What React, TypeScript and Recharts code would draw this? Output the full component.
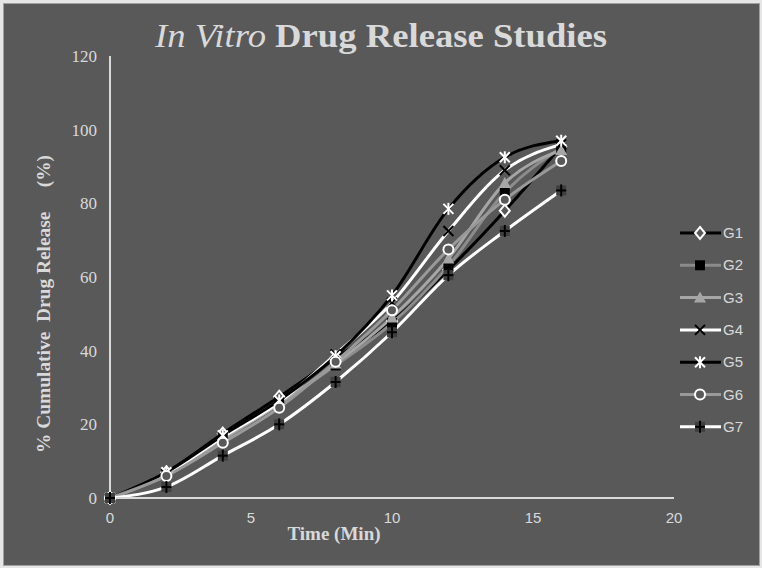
import React from 'react';
import { LineChart, Line, XAxis, YAxis } from 'recharts';

const times = [0, 2, 4, 6, 8, 10, 12, 14, 16];
const g1 = [0, 7, 17.5, 27.5, 38, 48, 62, 78, 95.5];
const g2 = [0, 6.5, 16, 25.5, 36, 47.5, 63, 83, 95];
const g3 = [0, 6.5, 16, 25.5, 36.5, 49, 65, 85.5, 94.5];
const g4 = [0, 6.5, 16.5, 26, 39, 53, 72.5, 89, 96];
const g5 = [0, 7, 17, 26.5, 38.5, 55, 78.5, 92.5, 97];
const g6 = [0, 6, 15, 24.5, 37, 51, 67.5, 81, 91.5];
const g7 = [0, 3, 11.5, 20, 31.5, 45, 60.5, 72.5, 83.5];
const seriesNames = ['G1', 'G2', 'G3', 'G4', 'G5', 'G6', 'G7'];
const xTicks = [0, 5, 10, 15, 20];
const yTicks = [0, 20, 40, 60, 80, 100, 120];

const BG = '#595959';
const TXT = '#d9d9d9';

const data = times.map((t, i) => ({
  t,
  G1: g1[i], G2: g2[i], G3: g3[i], G4: g4[i], G5: g5[i], G6: g6[i], G7: g7[i],
}));

const lineColors: Record<string, string> = {
  G1: '#000000', G2: '#8c8c8c', G3: '#a6a6a6', G4: '#ffffff', G5: '#000000', G6: '#999999', G7: '#ffffff',
};

function Marker({ name, cx, cy }: { name: string; cx: number; cy: number }) {
  if (cx == null || cy == null) return null;
  switch (name) {
    case 'G1':
      return <polygon points={`${cx},${cy - 6} ${cx + 5},${cy} ${cx},${cy + 6} ${cx - 5},${cy}`} fill={BG} stroke="#ffffff" strokeWidth={2} />;
    case 'G2':
      return <rect x={cx - 5} y={cy - 5} width={10} height={10} fill="#000000" />;
    case 'G3':
      return <polygon points={`${cx},${cy - 6} ${cx + 6},${cy + 5} ${cx - 6},${cy + 5}`} fill="#a6a6a6" />;
    case 'G4':
      return <g stroke="#000000" strokeWidth={2}><line x1={cx - 5} y1={cy - 5} x2={cx + 5} y2={cy + 5} /><line x1={cx - 5} y1={cy + 5} x2={cx + 5} y2={cy - 5} /></g>;
    case 'G5':
      return <g stroke="#ffffff" strokeWidth={2}><line x1={cx - 5} y1={cy - 5} x2={cx + 5} y2={cy + 5} /><line x1={cx - 5} y1={cy + 5} x2={cx + 5} y2={cy - 5} /><line x1={cx} y1={cy - 6} x2={cx} y2={cy + 6} /></g>;
    case 'G6':
      return <circle cx={cx} cy={cy} r={5} fill={BG} stroke="#ffffff" strokeWidth={2} />;
    case 'G7':
      return <g><rect x={cx - 5} y={cy - 5} width={10} height={10} fill="#3f3f3f" /><g stroke="#000000" strokeWidth={2}><line x1={cx - 5} y1={cy} x2={cx + 5} y2={cy} /><line x1={cx} y1={cy - 6} x2={cx} y2={cy + 6} /></g></g>;
    default:
      return null;
  }
}

export default function App() {
  return (
    <div style={{ position: 'absolute', left: 0, top: 0, width: 762, height: 568, background: '#e6e6e6' }}>
      <div style={{ position: 'absolute', left: 3, top: 3, width: 757, height: 563, background: BG, boxSizing: 'border-box', border: '1px solid #a0a0a0' }} />
      <div style={{ position: 'absolute', left: 0, top: 0 }}>
        <LineChart width={762} height={568} data={data} margin={{ top: 56, right: 88, bottom: 40, left: 50 }}>
          <XAxis
            dataKey="t"
            type="number"
            domain={[0, 20]}
            ticks={xTicks}
            tickLine={false}
            axisLine={{ stroke: '#d9d9d9', strokeWidth: 2 }}
            tick={{ fill: TXT, fontSize: 15, fontFamily: "'Liberation Sans', sans-serif" }}
            tickSize={6}
            tickMargin={8}
            height={30}
          />
          <YAxis
            type="number"
            domain={[0, 120]}
            ticks={yTicks}
            tickLine={false}
            axisLine={{ stroke: '#d9d9d9', strokeWidth: 2 }}
            tick={{ fill: TXT, fontSize: 17, fontFamily: "'Liberation Serif', serif" }}
            tickSize={6}
            tickMargin={7}
            width={60}
          />
          {seriesNames.map((n) => (
            <Line
              key={n}
              type="monotone"
              dataKey={n}
              stroke={lineColors[n]}
              strokeWidth={3}
              isAnimationActive={false}
              dot={(p: any) => <Marker key={`${n}-${p.index}`} name={n} cx={p.cx} cy={p.cy} />}
              activeDot={false}
            />
          ))}
        </LineChart>
      </div>
      <svg width={762} height={568} style={{ position: 'absolute', left: 0, top: 0, pointerEvents: 'none' }}>
        <text x={381} y={47} textAnchor="middle" fill={TXT} fontSize={33} fontFamily="'Liberation Serif', serif" textLength={452} lengthAdjust="spacingAndGlyphs">
          <tspan fontStyle="italic">In Vitro</tspan>
          <tspan fontWeight="bold"> Drug Release Studies</tspan>
        </text>
        <text x={0} y={0} transform="translate(50,304) rotate(-90)" textAnchor="middle" fill={TXT} fontSize={18} fontWeight="bold" fontFamily="'Liberation Serif', serif" textLength={298} lengthAdjust="spacingAndGlyphs" style={{ whiteSpace: 'pre' }}>
          {'% Cumulative  Drug Release     (%)'}
        </text>
        <text x={334} y={540} textAnchor="middle" fill={TXT} fontSize={19} fontWeight="bold" fontFamily="'Liberation Serif', serif">
          Time (Min)
        </text>
        {seriesNames.map((n, i) => {
          const y = 233 + i * 32.3;
          return (
            <g key={n}>
              <line x1={680} y1={y} x2={721} y2={y} stroke={lineColors[n]} strokeWidth={3} />
              <Marker name={n} cx={700} cy={y} />
              <text x={723} y={y + 5} fill={TXT} fontSize={15} fontFamily="'Liberation Sans', sans-serif">{n}</text>
            </g>
          );
        })}
      </svg>
    </div>
  );
}
